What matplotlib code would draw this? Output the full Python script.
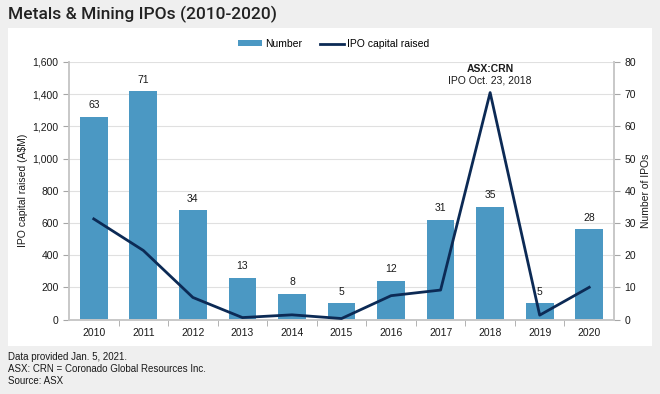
"""Metals & Mining IPOs on the ASX, 2010-2020: IPO count bars with capital raised line."""

import matplotlib

matplotlib.use("Agg")
import matplotlib.pyplot as plt
from matplotlib.patches import Rectangle

years = ["2010", "2011", "2012", "2013", "2014", "2015", "2016", "2017", "2018", "2019", "2020"]
ipo_count = [63, 71, 34, 13, 8, 5, 12, 31, 35, 5, 28]
capital_raised = [625, 429, 137, 12, 29, 6, 148, 183, 1410, 27, 200]
left_ticks = [0, 200, 400, 600, 800, 1000, 1200, 1400, 1600]
right_ticks = [0, 10, 20, 30, 40, 50, 60, 70, 80]

BG = "#efefef"
BAR = "#4b98c3"
LINE = "#0c2a55"
GRID = "#e0e0e0"
TEXT = "#1a1a1a"

plt.rcParams["font.family"] = ["Liberation Sans", "DejaVu Sans"]

fig = plt.figure(figsize=(6.6, 3.94), dpi=100, facecolor=BG)
# white panel behind the chart
fig.patches.append(Rectangle((8 / 660, 1 - 346 / 394), 644 / 660, (346 - 28) / 394,
                             transform=fig.transFigure, facecolor="white",
                             edgecolor="none", zorder=-5))

ax = fig.add_axes([69 / 660, 1 - 319.5 / 394, (614 - 69) / 660, (319.5 - 62) / 394])
ax2 = ax.twinx()
x = list(range(len(years)))

# bars on the right-hand (count) axis, drawn underneath the line
bars = ax2.bar(x, ipo_count, width=0.56, color=BAR, zorder=2, label="Number")
for xi, v in zip(x, ipo_count):
    ax2.text(xi, v + 2, str(v), ha="center", va="bottom", fontsize=7.5, color=TEXT)
ax2.set_ylim(0, 80)
ax2.set_yticks(right_ticks)
ax2.yaxis.grid(True, color=GRID, linewidth=0.8, zorder=0)
ax2.set_axisbelow(True)
ax2.patch.set_visible(False)

(line,) = ax.plot(x, capital_raised, color=LINE, linewidth=2, zorder=5, label="IPO capital raised")
ax.set_ylim(0, 1600)
ax.set_yticks(left_ticks)
ax.set_yticklabels([f"{t:,}" for t in left_ticks])
ax.set_xlim(-0.5, len(years) - 0.5)
ax.set_xticks(x)
ax.set_xticklabels(years)
ax.set_xticks([i + 0.5 for i in x[:-1]], minor=True)
ax.tick_params(axis="x", which="major", length=0, pad=6, labelsize=7.5, labelcolor=TEXT)
ax.tick_params(axis="x", which="minor", length=4, color="#a6a6a6", direction="out")
ax.tick_params(axis="y", length=4, color="#a6a6a6", labelsize=7.5, labelcolor=TEXT)
ax2.tick_params(axis="y", length=4, color="#a6a6a6", labelsize=7.5, labelcolor=TEXT)

ax.set_zorder(ax2.get_zorder() + 1)
ax.patch.set_visible(False)

for a in (ax, ax2):
    a.spines["top"].set_visible(False)
    for side in ("left", "right", "bottom"):
        a.spines[side].set_color("#c8c8c8")
        a.spines[side].set_linewidth(1.2)

ax.set_ylabel("IPO capital raised (A$M)", fontsize=7.5, color=TEXT)
ax2.set_ylabel("Number of IPOs", fontsize=7.5, color=TEXT)
ax.yaxis.set_label_coords(-0.076, 0.5)
ax2.yaxis.set_label_coords(1.05, 0.5)

ax.text(8, 1555, "ASX:CRN", ha="center", va="center", fontsize=7.5,
        fontweight="bold", color=TEXT)
ax.text(8, 1482, "IPO Oct. 23, 2018", ha="center", va="center", fontsize=7.5, color=TEXT)

fig.legend([bars, line], ["Number", "IPO capital raised"], loc="center",
           bbox_to_anchor=(334 / 660, 1 - 44 / 394), ncol=2, frameon=False,
           fontsize=7.5, handlelength=2.3, handleheight=0.5, columnspacing=1.7,
           handletextpad=0.3)

fig.text(8 / 660, 1 - 14 / 394, "Metals & Mining IPOs (2010-2020)", ha="left", va="center",
         fontsize=12.5, color="#222222", family=["Roboto", "DejaVu Sans"], fontweight="medium")
fig.text(8 / 660, 1 - 357 / 394, "Data provided Jan. 5, 2021.", fontsize=7, color=TEXT, va="center")
fig.text(8 / 660, 1 - 369 / 394, "ASX: CRN = Coronado Global Resources Inc.", fontsize=7,
         color=TEXT, va="center")
fig.text(8 / 660, 1 - 381 / 394, "Source: ASX", fontsize=7, color=TEXT, va="center")

fig.savefig("out.png", dpi=100, facecolor=BG)
